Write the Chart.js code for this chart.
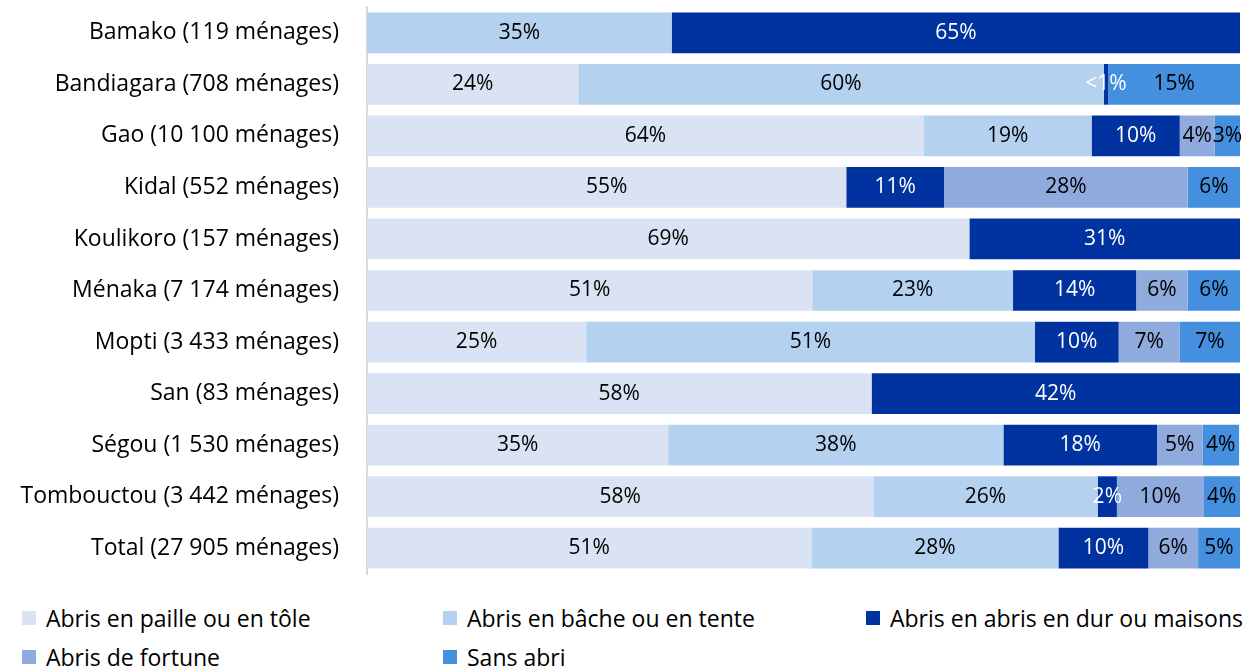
<!DOCTYPE html>
<html>
<head>
<meta charset="utf-8">
<script src="https://cdn.jsdelivr.net/npm/chart.js@4"></script>
<style>
  body { margin:0; background:#fff; font-family: "Open Sans", Lato, sans-serif; }
  #wrap { position:relative; width:1245px; height:590px; }
  #legend { position:relative; width:1245px; height:77px; font-size:23px; color:#000; }
  .item { position:absolute; display:flex; align-items:center; white-space:nowrap; line-height:28px; }
  .sw { width:14px; height:14px; margin-right:10px; }
</style>
</head>
<body>
<div id="wrap"><canvas id="c"></canvas></div>
<div id="legend"></div>
<script>
const categories = [
  'Bamako (119 ménages)', 'Bandiagara (708 ménages)', 'Gao (10 100 ménages)',
  'Kidal (552 ménages)', 'Koulikoro (157 ménages)', 'Ménaka (7 174 ménages)',
  'Mopti (3 433 ménages)', 'San (83 ménages)', 'Ségou (1 530 ménages)',
  'Tombouctou (3 442 ménages)', 'Total (27 905 ménages)'
];
const seriesNames = ['Abris en paille ou en tôle', 'Abris en bâche ou en tente', 'Abris en abris en dur ou maisons', 'Abris de fortune', 'Sans abri'];
const seriesColors = ['#dae3f3', '#b4d2f0', '#0033a0', '#8faadc', '#448fde'];
const labelColors = ['#000', '#000', '#fff', '#000', '#000'];

const paille  = [0,    24.2, 63.8, 54.9, 69.0, 51.0, 25.1, 57.8, 34.5, 58.0, 50.9];
const bache   = [34.9, 60.2, 19.2, 0,    0,    23.0, 51.4, 0,    38.4, 25.7, 28.3];
const dur     = [65.1, 0.5,  10.1, 11.2, 31.0, 14.1, 9.6,  42.2, 17.6, 2.2,  10.3];
const fortune = [0,    0,    4.0,  27.9, 0,    5.9,  7.0,  0,    5.2,  9.9,  5.7];
const sansAbri= [0,    15.1, 2.9,  6.0,  0,    6.0,  6.9,  0,    4.2,  4.2,  4.8];
const series = [paille, bache, dur, fortune, sansAbri];

const valueLabels = {
  id: 'valueLabels',
  afterDatasetsDraw(chart) {
    const ctx = chart.ctx;
    ctx.save();
    ctx.font = '21px "Open Sans", Lato, sans-serif';
    ctx.textAlign = 'center';
    ctx.textBaseline = 'middle';
    chart.data.datasets.forEach((ds, i) => {
      chart.getDatasetMeta(i).data.forEach((el, j) => {
        const v = ds.data[j];
        if (!v) return;
        const txt = v < 1 ? '<1%' : Math.round(v) + '%';
        ctx.fillStyle = labelColors[i];
        ctx.fillText(txt, (el.x + el.base) / 2, el.y);
      });
    });
    ctx.restore();
  }
};

new Chart(document.getElementById('c'), {
  type: 'bar',
  data: {
    labels: categories,
    datasets: series.map((d, i) => ({
      label: seriesNames[i],
      data: d,
      backgroundColor: seriesColors[i],
      borderWidth: 0,
      categoryPercentage: 1,
      barPercentage: 0.79
    }))
  },
  options: {
    indexAxis: 'y',
    responsive: true,
    maintainAspectRatio: false,
    animation: false,
    layout: { padding: { left: 0, top: 7, right: 5, bottom: 16 } },
    plugins: { legend: { display: false }, tooltip: { enabled: false } },
    scales: {
      x: { stacked: true, min: 0, max: 100, display: false },
      y: {
        stacked: true,
        grid: { display: false, drawTicks: false },
        border: { display: true, color: '#d9d9d9', width: 2 },
        ticks: { color: '#000', padding: 28, font: { family: '"Open Sans"', size: 23 } },
        afterFit(scale) {
          scale.width = 367;
          // labels may overhang, don't let them shrink the plot
          scale.paddingTop = 0;
          scale.paddingBottom = 0;
        }
      }
    }
  },
  plugins: [valueLabels]
});

// legend laid out in three columns like the original
const legend = document.getElementById('legend');
const cols = [22, 443, 866];
seriesNames.forEach((name, i) => {
  const it = document.createElement('div');
  it.className = 'item';
  it.style.left = cols[i % 3] + 'px';
  it.style.top = (i < 3 ? 14 : 53) + 'px';
  it.innerHTML = `<span class="sw" style="background:${seriesColors[i]}"></span>${name}`;
  legend.appendChild(it);
});
</script>
</body>
</html>
